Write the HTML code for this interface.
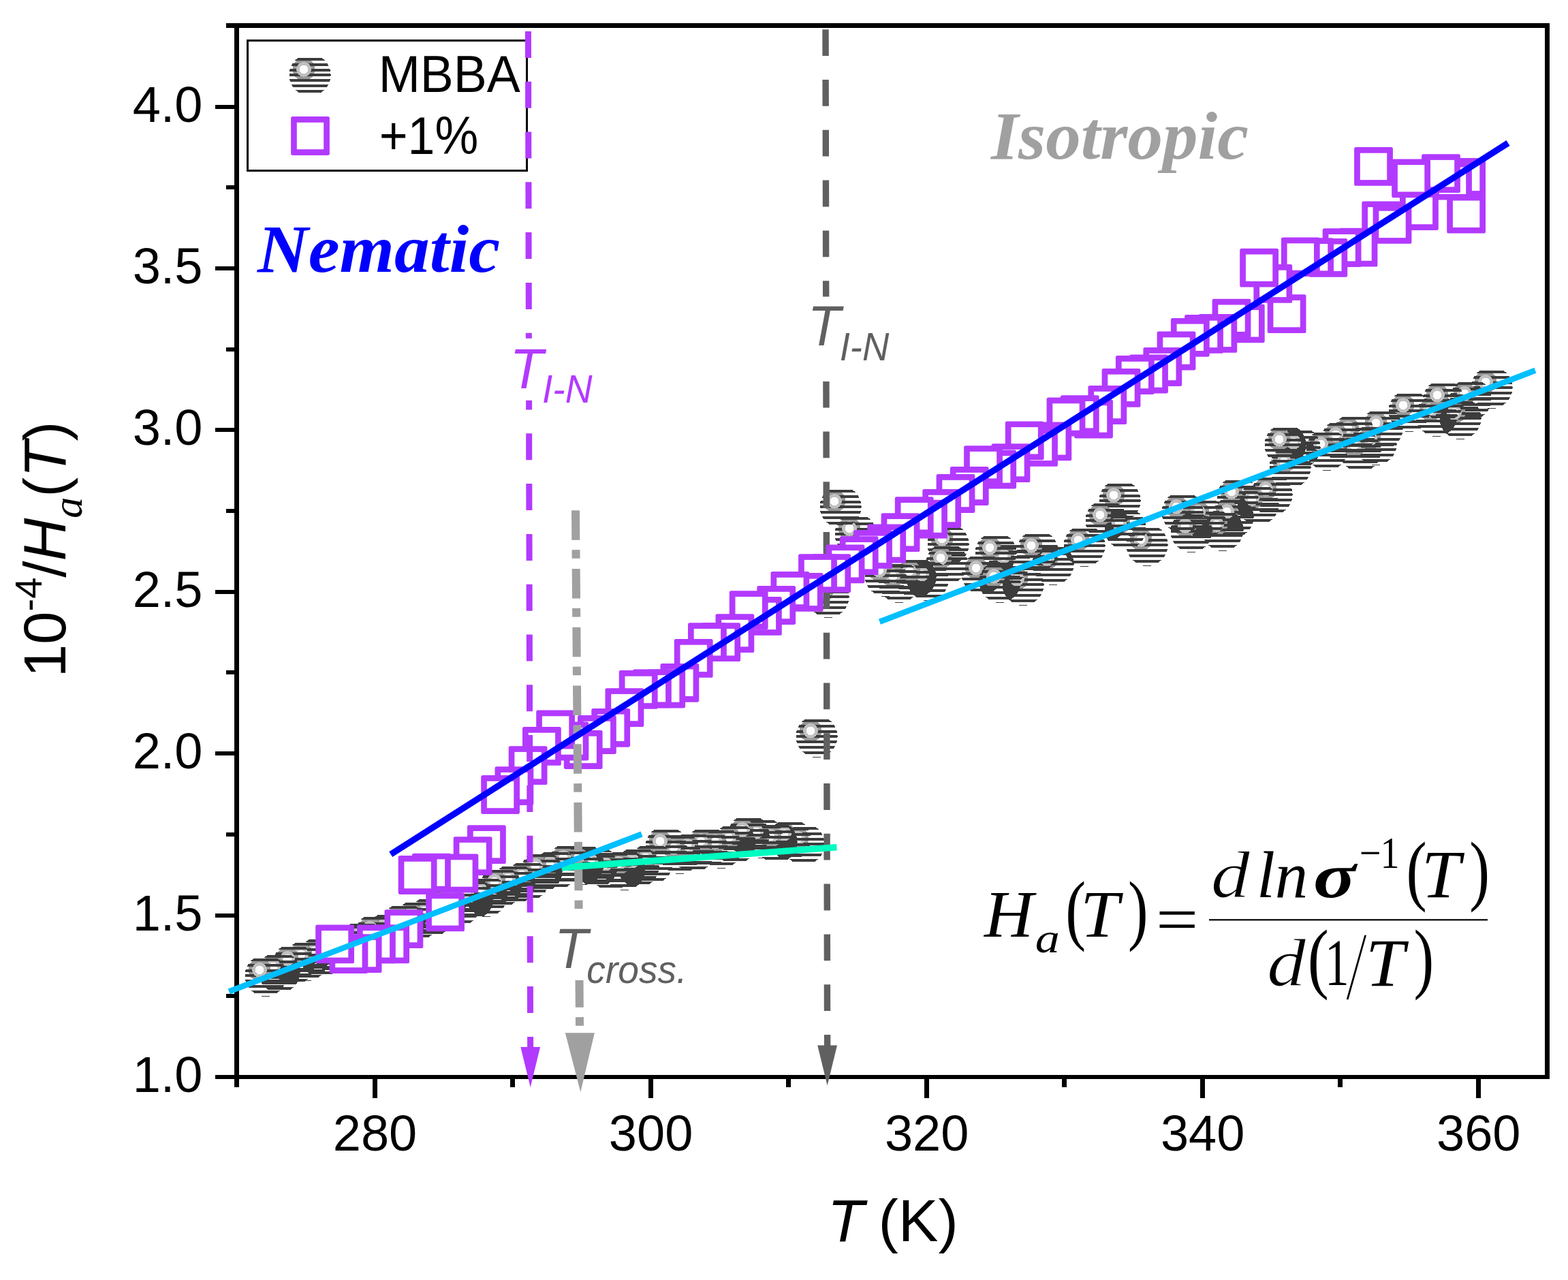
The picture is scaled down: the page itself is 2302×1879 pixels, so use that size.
<!DOCTYPE html>
<html lang="en"><head><meta charset="utf-8"><title>MBBA activation enthalpy plot</title>
<style>html,body{margin:0;padding:0;background:#fff;width:2302px;height:1879px;overflow:hidden}svg{display:block}text{font-family:"Liberation Sans",Arial,sans-serif}.serif,.serif text,.serif tspan{font-family:"Liberation Serif","Times New Roman",serif}</style></head><body>
<svg width="2302" height="1879" viewBox="0 0 2302 1879">
<defs><g id="b" shape-rendering="crispEdges"><path d="M-17.5,-25.0L-18.8,-24.0L-20.0,-23.0L-21.1,-22.0L-22.1,-21.0L22.1,-21.0L21.1,-22.0L20.0,-23.0L18.8,-24.0L17.5,-25.0ZM-25.3,-17.0L-26.0,-16.0L-26.6,-15.0L-27.1,-14.0L-27.6,-13.0L27.6,-13.0L27.1,-14.0L26.6,-15.0L26.0,-16.0L25.3,-17.0ZM-29.1,-9.0L-29.4,-8.0L-29.7,-7.0L-29.9,-6.0L-30.1,-5.0L30.1,-5.0L29.9,-6.0L29.7,-7.0L29.4,-8.0L29.1,-9.0ZM-30.4,-2.0L-30.5,-1.0L-30.5,0.0L-30.5,1.0L-30.4,2.0L30.4,2.0L30.5,1.0L30.5,0.0L30.5,-1.0L30.4,-2.0ZM-29.9,6.0L-29.7,7.0L-29.4,8.0L-29.1,9.0L-28.8,10.0L28.8,10.0L29.1,9.0L29.4,8.0L29.7,7.0L29.9,6.0ZM-27.1,14.0L-26.6,15.0L-26.0,16.0L-25.3,17.0L-24.6,18.0L24.6,18.0L25.3,17.0L26.0,16.0L26.6,15.0L27.1,14.0ZM-21.1,22.0L-20.0,23.0L-18.8,24.0L-17.5,25.0L-15.9,26.0L15.9,26.0L17.5,25.0L18.8,24.0L20.0,23.0L21.1,22.0ZM-6,30h12v1.2h-12Z" fill="#3c3c3c"/><path d="M-19.4,-21.0L-21.5,-19.0L-23.0,-17.0L5.0,-17.0L3.5,-19.0L1.4,-21.0ZM-24.8,-13.0L-25.3,-11.0L-25.5,-9.0L7.5,-9.0L7.3,-11.0L6.8,-13.0ZM-25.2,-5.0L-24.8,-3.5L-24.3,-2.0L6.3,-2.0L6.8,-3.5L7.2,-5.0ZM-22.0,2.0L-20.1,4.0L-17.4,6.0L-0.6,6.0L2.1,4.0L4.0,2.0Z" fill="#999"/><circle cx="-9" cy="-8.2" r="10.8" fill="#c0c0c0"/><circle cx="-9" cy="-8.2" r="6.3" fill="#fcfcfc"/></g>
<g id="c" shape-rendering="crispEdges"><path d="M-17.5,-25.0L-18.8,-24.0L-20.0,-23.0L-21.1,-22.0L-22.1,-21.0L22.1,-21.0L21.1,-22.0L20.0,-23.0L18.8,-24.0L17.5,-25.0ZM-25.3,-17.0L-26.0,-16.0L-26.6,-15.0L-27.1,-14.0L-27.6,-13.0L27.6,-13.0L27.1,-14.0L26.6,-15.0L26.0,-16.0L25.3,-17.0ZM-29.1,-9.0L-29.4,-8.0L-29.7,-7.0L-29.9,-6.0L-30.1,-5.0L30.1,-5.0L29.9,-6.0L29.7,-7.0L29.4,-8.0L29.1,-9.0ZM-30.4,-2.0L-30.5,-1.0L-30.5,0.0L-30.5,1.0L-30.4,2.0L30.4,2.0L30.5,1.0L30.5,0.0L30.5,-1.0L30.4,-2.0ZM-29.9,6.0L-29.7,7.0L-29.4,8.0L-29.1,9.0L-28.8,10.0L28.8,10.0L29.1,9.0L29.4,8.0L29.7,7.0L29.9,6.0ZM-27.1,14.0L-26.6,15.0L-26.0,16.0L-25.3,17.0L-24.6,18.0L24.6,18.0L25.3,17.0L26.0,16.0L26.6,15.0L27.1,14.0ZM-21.1,22.0L-20.0,23.0L-18.8,24.0L-17.5,25.0L-15.9,26.0L15.9,26.0L17.5,25.0L18.8,24.0L20.0,23.0L21.1,22.0Z" fill="#3c3c3c"/><path d="M-19.4,-21.0L-21.5,-19.0L-23.0,-17.0L5.0,-17.0L3.5,-19.0L1.4,-21.0ZM-24.8,-13.0L-25.3,-11.0L-25.5,-9.0L7.5,-9.0L7.3,-11.0L6.8,-13.0ZM-25.2,-5.0L-24.8,-3.5L-24.3,-2.0L6.3,-2.0L6.8,-3.5L7.2,-5.0ZM-22.0,2.0L-20.1,4.0L-17.4,6.0L-0.6,6.0L2.1,4.0L4.0,2.0Z" fill="#999"/><circle cx="-9" cy="-8.2" r="10.8" fill="#c0c0c0"/><circle cx="-9" cy="-8.2" r="6.3" fill="#fcfcfc"/></g>
<g id="s"><rect x="-28.4" y="-28.4" width="56.8" height="56.8" rx="2.6" fill="#b23aff"/><rect x="-19.7" y="-19.7" width="39.4" height="39.4" fill="#fff"/></g>
</defs>
<rect width="2302" height="1879" fill="#fff"/>
<g fill="#000" shape-rendering="crispEdges">
<rect x="344" y="34" width="7" height="1562"/>
<rect x="2268" y="34" width="7" height="1550"/>
<rect x="332" y="34" width="1943" height="7"/>
<rect x="316" y="1578" width="1959" height="6"/>
<rect x="332" y="1459" width="14" height="6"/>
<rect x="316" y="1341" width="30" height="6"/>
<rect x="332" y="1222" width="14" height="6"/>
<rect x="316" y="1103" width="30" height="6"/>
<rect x="332" y="984" width="14" height="6"/>
<rect x="316" y="866" width="30" height="6"/>
<rect x="332" y="747" width="14" height="6"/>
<rect x="316" y="628" width="30" height="6"/>
<rect x="332" y="510" width="14" height="6"/>
<rect x="316" y="391" width="30" height="6"/>
<rect x="332" y="272" width="14" height="6"/>
<rect x="316" y="154" width="30" height="6"/>
<rect x="546.5" y="1580" width="7" height="31.5"/>
<rect x="749.1" y="1580" width="7" height="16"/>
<rect x="951.6" y="1580" width="7" height="31.5"/>
<rect x="1154.1" y="1580" width="7" height="16"/>
<rect x="1356.7" y="1580" width="7" height="31.5"/>
<rect x="1559.2" y="1580" width="7" height="16"/>
<rect x="1761.7" y="1580" width="7" height="31.5"/>
<rect x="1964.2" y="1580" width="7" height="16"/>
<rect x="2166.8" y="1580" width="7" height="31.5"/>
</g>
<g>
<use href="#b" x="2190" y="569"/>
<use href="#c" x="2159" y="586"/>
<use href="#b" x="2144" y="614"/>
<use href="#b" x="2109" y="610"/>
<use href="#c" x="2119" y="588"/>
<use href="#b" x="2069" y="603"/>
<use href="#c" x="2029" y="629"/>
<use href="#b" x="2020" y="652"/>
<use href="#c" x="1997" y="662"/>
<use href="#c" x="1988" y="637"/>
<use href="#c" x="1970" y="646"/>
<use href="#b" x="1948" y="660"/>
<use href="#c" x="1908" y="657"/>
<use href="#c" x="1894" y="686"/>
<use href="#c" x="1887" y="653"/>
<use href="#c" x="1867" y="726"/>
<use href="#c" x="1847" y="740"/>
<use href="#c" x="1817" y="730"/>
<use href="#c" x="1810" y="759"/>
<use href="#b" x="1795" y="778"/>
<use href="#c" x="1768" y="760"/>
<use href="#b" x="1749" y="780"/>
<use href="#c" x="1736" y="752"/>
<use href="#b" x="1684" y="800"/>
<use href="#c" x="1652" y="776"/>
<use href="#c" x="1644" y="735"/>
<use href="#c" x="1624" y="764"/>
<use href="#b" x="1592" y="801"/>
<use href="#b" x="1546" y="828"/>
<use href="#c" x="1546" y="828"/>
<use href="#c" x="1523" y="809"/>
<use href="#b" x="1502" y="858"/>
<use href="#c" x="1482" y="825"/>
<use href="#c" x="1462" y="812"/>
<use href="#c" x="1442" y="842"/>
<use href="#b" x="1468" y="854"/>
<use href="#c" x="1392" y="799"/>
<use href="#c" x="1390" y="827"/>
<use href="#b" x="1362" y="851"/>
<use href="#c" x="1344" y="847"/>
<use href="#b" x="1320" y="854"/>
<use href="#b" x="1300" y="845"/>
<use href="#c" x="1256" y="784"/>
<use href="#c" x="1234" y="744"/>
<use href="#b" x="1216" y="876"/>
<use href="#c" x="1216" y="876"/>
<use href="#b" x="1199" y="1081"/>
<use href="#c" x="1180" y="1239"/>
<use href="#c" x="1160" y="1232"/>
<use href="#c" x="1140" y="1236"/>
<use href="#b" x="1119" y="1229"/>
<use href="#c" x="1099" y="1226"/>
<use href="#c" x="1079" y="1238"/>
<use href="#b" x="1059" y="1244"/>
<use href="#c" x="1038" y="1243"/>
<use href="#c" x="1018" y="1250"/>
<use href="#b" x="998" y="1252"/>
<use href="#c" x="978" y="1243"/>
<use href="#c" x="957" y="1267"/>
<use href="#c" x="937" y="1272"/>
<use href="#b" x="917" y="1276"/>
<use href="#c" x="897" y="1277"/>
<use href="#c" x="876" y="1272"/>
<use href="#b" x="856" y="1268"/>
<use href="#c" x="836" y="1267"/>
<use href="#c" x="816" y="1276"/>
<use href="#b" x="795" y="1279"/>
<use href="#c" x="775" y="1292"/>
<use href="#c" x="755" y="1297"/>
<use href="#c" x="735" y="1302"/>
<use href="#b" x="714" y="1315"/>
<use href="#c" x="694" y="1319"/>
<use href="#c" x="674" y="1329"/>
<use href="#b" x="653" y="1331"/>
<use href="#c" x="633" y="1345"/>
<use href="#c" x="613" y="1350"/>
<use href="#b" x="593" y="1355"/>
<use href="#c" x="572" y="1368"/>
<use href="#c" x="552" y="1371"/>
<use href="#c" x="532" y="1381"/>
<use href="#b" x="512" y="1384"/>
<use href="#c" x="491" y="1398"/>
<use href="#c" x="471" y="1404"/>
<use href="#b" x="451" y="1409"/>
<use href="#c" x="431" y="1415"/>
<use href="#c" x="410" y="1427"/>
<use href="#b" x="390" y="1432"/>
</g>
<path d="M1212.0,43.2L1212.1,82.0M1212.1,117.0L1212.2,155.8M1212.3,190.8L1212.3,229.6M1212.4,264.6L1212.5,303.4M1212.5,338.4L1212.6,377.2M1212.6,412.2L1212.7,435.5M1212.9,560.0L1213.0,598.5M1213.0,633.5L1213.1,672.3M1213.2,707.3L1213.2,746.1M1213.3,781.1L1213.4,819.9M1213.4,854.9L1213.5,893.7M1213.5,928.7L1213.6,967.5M1213.7,1002.5L1213.7,1041.3M1213.8,1076.3L1213.9,1115.1M1213.9,1150.1L1214.0,1188.9M1214.1,1223.8L1214.1,1262.6M1214.2,1297.6L1214.3,1336.4M1214.3,1371.4L1214.4,1410.2M1214.4,1445.2L1214.5,1484.0M1214.6,1519.0L1214.6,1536.0" stroke="#606060" stroke-width="9.4" fill="none"/>
<path d="M1200.2,1534.6L1229,1534.6L1214.6,1593.5Z" fill="#606060"/>
<rect x="363.5" y="59.5" width="410" height="191" fill="#fff" stroke="#000" stroke-width="3"/>
<g>
<use href="#s" x="2152.6" y="314.2"/>
<use href="#s" x="2152.6" y="260.4"/>
<use href="#s" x="2132.5" y="265.2"/>
<use href="#s" x="2115.5" y="254.6"/>
<use href="#s" x="2083.4" y="309.5"/>
<use href="#s" x="2071.6" y="261.8"/>
<use href="#s" x="2027.7" y="323.8"/>
<use href="#s" x="2044.0" y="329.4"/>
<use href="#s" x="2016.5" y="244.4"/>
<use href="#s" x="1994.0" y="363.1"/>
<use href="#s" x="1970.1" y="363.7"/>
<use href="#s" x="1949.8" y="378.3"/>
<use href="#s" x="1929.6" y="377.7"/>
<use href="#s" x="1909.3" y="377.0"/>
<use href="#s" x="1889.1" y="460.6"/>
<use href="#s" x="1868.8" y="416.4"/>
<use href="#s" x="1848.6" y="393.2"/>
<use href="#s" x="1828.3" y="474.8"/>
<use href="#s" x="1808.0" y="467.2"/>
<use href="#s" x="1787.8" y="489.4"/>
<use href="#s" x="1767.5" y="490.4"/>
<use href="#s" x="1747.3" y="495.3"/>
<use href="#s" x="1727.0" y="515.0"/>
<use href="#s" x="1706.8" y="538.5"/>
<use href="#s" x="1686.5" y="549.0"/>
<use href="#s" x="1666.3" y="550.5"/>
<use href="#s" x="1646.0" y="569.4"/>
<use href="#s" x="1625.8" y="594.5"/>
<use href="#s" x="1605.5" y="615.0"/>
<use href="#s" x="1585.3" y="608.7"/>
<use href="#s" x="1565.0" y="612.0"/>
<use href="#s" x="1544.8" y="647.9"/>
<use href="#s" x="1524.5" y="656.4"/>
<use href="#s" x="1504.2" y="646.8"/>
<use href="#s" x="1484.0" y="679.6"/>
<use href="#s" x="1463.7" y="689.0"/>
<use href="#s" x="1443.5" y="682.6"/>
<use href="#s" x="1423.2" y="713.5"/>
<use href="#s" x="1403.0" y="724.5"/>
<use href="#s" x="1382.7" y="746.5"/>
<use href="#s" x="1362.5" y="762.1"/>
<use href="#s" x="1342.2" y="757.7"/>
<use href="#s" x="1322.0" y="781.7"/>
<use href="#s" x="1301.7" y="798.0"/>
<use href="#s" x="1281.5" y="806.4"/>
<use href="#s" x="1261.2" y="815.7"/>
<use href="#s" x="1241.0" y="827.8"/>
<use href="#s" x="1220.7" y="841.6"/>
<use href="#s" x="1200.5" y="841.6"/>
<use href="#s" x="1180.2" y="869.4"/>
<use href="#s" x="1159.9" y="867.5"/>
<use href="#s" x="1139.7" y="888.5"/>
<use href="#s" x="1119.4" y="904.4"/>
<use href="#s" x="1099.2" y="895.7"/>
<use href="#s" x="1078.9" y="929.6"/>
<use href="#s" x="1058.7" y="942.7"/>
<use href="#s" x="1038.4" y="942.7"/>
<use href="#s" x="1018.2" y="966.4"/>
<use href="#s" x="997.9" y="1002.3"/>
<use href="#s" x="977.7" y="1011.0"/>
<use href="#s" x="957.4" y="1010.8"/>
<use href="#s" x="937.2" y="1012.4"/>
<use href="#s" x="916.9" y="1038.6"/>
<use href="#s" x="896.7" y="1068.3"/>
<use href="#s" x="876.4" y="1078.5"/>
<use href="#s" x="856.2" y="1100.5"/>
<use href="#s" x="835.9" y="1088.0"/>
<use href="#s" x="815.6" y="1071.0"/>
<use href="#s" x="795.4" y="1095.4"/>
<use href="#s" x="775.1" y="1123.6"/>
<use href="#s" x="754.9" y="1153.6"/>
<use href="#s" x="734.6" y="1166.5"/>
<use href="#s" x="714.4" y="1239.7"/>
<use href="#s" x="694.1" y="1256.6"/>
<use href="#s" x="673.9" y="1282.0"/>
<use href="#s" x="653.6" y="1338.9"/>
<use href="#s" x="633.4" y="1281.1"/>
<use href="#s" x="613.1" y="1284.5"/>
<use href="#s" x="592.9" y="1363.6"/>
<use href="#s" x="572.6" y="1385.9"/>
<use href="#s" x="552.4" y="1385.9"/>
<use href="#s" x="532.1" y="1399.6"/>
<use href="#s" x="511.9" y="1400.5"/>
<use href="#s" x="491.6" y="1385.9"/>
</g>
<path d="M775.4,45.9L775.5,84.9M775.6,119.7L775.6,158.7M775.7,193.5L775.8,232.5M775.9,267.3L776.0,306.3M776.0,341.1L776.1,380.1M776.2,414.9L776.3,453.9M776.3,488.7L776.4,496.7M776.6,587.8L776.6,601.5M776.7,636.3L776.7,675.3M776.8,710.1L776.9,749.1M777.0,783.9L777.1,822.9M777.1,857.7L777.2,896.7M777.3,931.5L777.4,970.5M777.5,1005.3L777.5,1044.3M777.6,1079.1L777.7,1118.1M777.8,1152.9L777.9,1191.9M777.9,1226.7L778.0,1265.7M778.1,1300.5L778.2,1339.5M778.2,1374.3L778.3,1413.3M778.4,1448.1L778.5,1487.1M778.6,1521.9L778.6,1538.0" stroke="#b23aff" stroke-width="9" fill="none"/>
<path d="M764.3,1537L793.1,1537L778.7,1596Z" fill="#b23aff"/>
<path d="M845.0,749.2L845.3,792.7M845.5,807.1L845.6,819.8M845.7,835.0L846.0,878.5M846.1,892.9L846.2,905.6M846.4,920.7L846.7,964.2M846.8,978.6L846.9,991.3M847.0,1006.5L847.4,1050.0M847.5,1064.4L847.6,1077.0M847.7,1092.2L848.1,1135.7M848.2,1150.1L848.3,1162.8M848.4,1178.0L848.7,1221.5M848.9,1235.9L849.0,1248.5M849.1,1263.7L849.4,1307.2M849.5,1321.6L849.6,1334.0M850.5,1439.0L850.8,1478.7M850.9,1493.1L851.0,1505.8" stroke="#a0a0a0" stroke-width="12" fill="none"/>
<path d="M829.8,1516.2L872.9,1516.2L852.3,1603Z" fill="#a0a0a0"/>
<path d="M824.5,1273.6L1228.4,1243.8" stroke="#00fcc0" stroke-width="9.6" fill="none"/>
<path d="M336.2,1455.5L942.1,1224.5" stroke="#00bfff" stroke-width="8.6" fill="none"/>
<path d="M1291.4,912.8L2253.9,543.7" stroke="#00bfff" stroke-width="8.6" fill="none"/>
<path d="M573.7,1254.1L2214,210" stroke="#0000ff" stroke-width="9.3" fill="none"/>
<text transform="translate(748.48,569.85) scale(1.0026,1.0427)" font-size="80" font-style="italic" font-weight="normal" fill="#b23aff">T<tspan font-size="55" dy="20.4" dx="-1.5">I-N</tspan></text>
<text transform="translate(1185.87,507.35) scale(0.9895,1.0500)" font-size="80" font-style="italic" font-weight="normal" fill="#606060">T<tspan font-size="55" dy="21.0" dx="-1.5">I-N</tspan></text>
<text transform="translate(813.88,1420.78) scale(1.0028,1.0487)" font-size="80" font-style="italic" font-weight="normal" fill="#606060">T<tspan font-size="55" dy="20.7" dx="-1.5">cross.</tspan></text>
<text x="297.5" y="1603.0" font-size="74" text-anchor="end">1.0</text>
<text x="297.5" y="1365.6" font-size="74" text-anchor="end">1.5</text>
<text x="297.5" y="1128.2" font-size="74" text-anchor="end">2.0</text>
<text x="297.5" y="890.8" font-size="74" text-anchor="end">2.5</text>
<text x="297.5" y="653.4" font-size="74" text-anchor="end">3.0</text>
<text x="297.5" y="416.0" font-size="74" text-anchor="end">3.5</text>
<text x="297.5" y="178.6" font-size="74" text-anchor="end">4.0</text>
<text x="550.5" y="1688.8" font-size="74" text-anchor="middle">280</text>
<text x="955.6" y="1688.8" font-size="74" text-anchor="middle">300</text>
<text x="1360.7" y="1688.8" font-size="74" text-anchor="middle">320</text>
<text x="1765.7" y="1688.8" font-size="74" text-anchor="middle">340</text>
<text x="2170.8" y="1688.8" font-size="74" text-anchor="middle">360</text>
<text transform="translate(1214.80,1822.28) scale(1.0006,0.9901)" font-size="88" font-style="normal" font-weight="normal" fill="#000"><tspan font-style="italic">T</tspan><tspan dx="-3.5"> (K)</tspan></text>
<text transform="translate(96.4,994.3) rotate(-90)" font-size="87">10<tspan font-size="56" dy="-35.4">-4</tspan><tspan dy="35.4">/</tspan><tspan font-style="italic">H</tspan><tspan class="serif" font-style="italic" font-size="62" dy="24">a</tspan><tspan dy="-24">(</tspan><tspan font-style="italic">T</tspan>)</text>
<use href="#c" x="455" y="110"/>
<use href="#s" x="455.5" y="199.5"/>
<text transform="translate(555.66,135.20) scale(1.0060,1.0380)" font-size="73" font-style="normal" font-weight="normal" fill="#000">MBBA</text>
<text transform="translate(556.67,226.20) scale(0.9824,1.0647)" font-size="73" font-style="normal" font-weight="normal" fill="#000">+1%</text>
<text class="serif" transform="translate(378.00,399.24) scale(1.0040,0.9630)" font-size="103" font-style="italic" font-weight="bold" fill="#0000ff">Nematic</text>
<text class="serif" transform="translate(1454.90,232.71) scale(1.0011,0.9723)" font-size="103" font-style="italic" font-weight="bold" fill="#a0a0a0">Isotropic</text>
<text class="serif" transform="translate(1445.04,1375.12) scale(1.0413,1.0210)" font-size="96" font-style="italic" font-weight="normal" fill="#000">H</text>
<text class="serif" transform="translate(1519.68,1398.10) scale(1.0621,0.9125)" font-size="68" font-style="italic" font-weight="normal" fill="#000">a</text>
<text class="serif" transform="translate(1564.16,1373.32) scale(0.9360,1.1942)" font-size="96" font-style="normal" font-weight="normal" fill="#000">(</text>
<text class="serif" transform="translate(1586.27,1375.12) scale(1.0615,1.0210)" font-size="96" font-style="italic" font-weight="normal" fill="#000">T</text>
<text class="serif" transform="translate(1655.93,1373.32) scale(0.9240,1.1942)" font-size="96" font-style="normal" font-weight="normal" fill="#000">)</text>
<text class="serif" transform="translate(1697.05,1381.67) scale(1.1500,1.0083)" font-size="96" font-style="normal" font-weight="normal" fill="#000">=</text>
<rect x="1775" y="1349.2" width="409" height="2.2"/>
<text class="serif" transform="translate(1777.63,1316.88) scale(1.1911,1.0164)" font-size="96" font-style="italic" font-weight="normal" fill="#000" stroke="#fff" stroke-width="1.2">d</text>
<text class="serif" transform="translate(1844.95,1316.60) scale(1.0091,1.0045)" font-size="96" font-style="italic" font-weight="normal" fill="#000">ln</text>
<text class="serif" transform="translate(1928.07,1317.03) scale(1.2098,0.9706)" font-size="96" font-style="italic" font-weight="bold" fill="#000">σ</text>
<text class="serif" transform="translate(1995.63,1274.20) scale(0.9228,1.0775)" font-size="61" font-style="normal" font-weight="normal" fill="#000">−<tspan dx="-1">1</tspan></text>
<text class="serif" transform="translate(2064.42,1315.42) scale(0.9440,1.1942)" font-size="96" font-style="normal" font-weight="normal" fill="#000">(</text>
<text class="serif" transform="translate(2086.92,1317.03) scale(1.0692,1.0274)" font-size="96" font-style="italic" font-weight="normal" fill="#000">T</text>
<text class="serif" transform="translate(2157.30,1315.42) scale(0.9320,1.1942)" font-size="96" font-style="normal" font-weight="normal" fill="#000">)</text>
<text class="serif" transform="translate(1859.93,1446.57) scale(1.1911,1.0254)" font-size="96" font-style="italic" font-weight="normal" fill="#000" stroke="#fff" stroke-width="1.2">d</text>
<text class="serif" transform="translate(1919.71,1444.42) scale(0.9720,1.1988)" font-size="96" font-style="normal" font-weight="normal" fill="#000">(</text>
<text class="serif" transform="translate(1944.95,1446.10) scale(0.7441,1.0111)" font-size="96" font-style="normal" font-weight="normal" fill="#000">1</text>
<text class="serif" transform="translate(1974.70,1467.67) scale(1.2462,1.5266)" font-size="96" font-style="normal" font-weight="normal" fill="#000" stroke="#fff" stroke-width="2.2">/</text>
<text class="serif" transform="translate(2005.12,1447.13) scale(1.0692,1.0274)" font-size="96" font-style="italic" font-weight="normal" fill="#000">T</text>
<text class="serif" transform="translate(2075.52,1444.42) scale(0.9280,1.1988)" font-size="96" font-style="normal" font-weight="normal" fill="#000">)</text>
</svg></body></html>
